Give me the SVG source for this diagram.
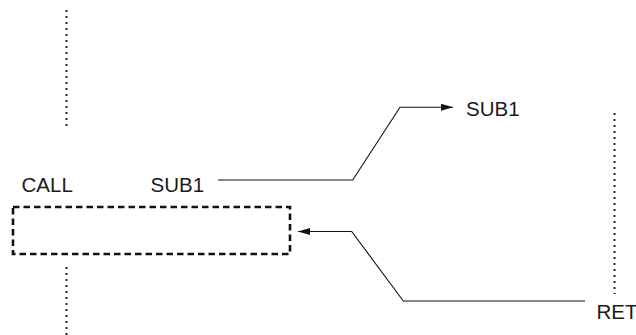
<svg xmlns="http://www.w3.org/2000/svg" width="636" height="335" viewBox="0 0 636 335">
  <style>
    .lbl { font-family: "Liberation Sans", Arial, sans-serif; font-size: 20.5px; fill: #1a1a1a; }
    .dot { stroke: #222; stroke-width: 2; stroke-dasharray: 2 4; fill: none; }
    .wire { stroke: #111; stroke-width: 1.1; fill: none; }
    .box { stroke: #111; stroke-width: 2.6; stroke-dasharray: 6.5 4; fill: none; }
  </style>
  <defs>
    <marker id="arr" markerUnits="userSpaceOnUse" markerWidth="13" markerHeight="8" refX="12" refY="3.5" orient="auto">
      <path d="M0,0 L12,3.5 L0,7 z" fill="#111"/>
    </marker>
  </defs>
  <g id="timeline-left">
    <line class="dot" x1="66.5" y1="10" x2="66.5" y2="126"/>
    <line class="dot" x1="66.5" y1="267" x2="66.5" y2="335"/>
  </g>
  <g id="timeline-right">
    <line class="dot" x1="614.5" y1="113" x2="614.5" y2="294"/>
  </g>
  <g id="call-node">
    <text class="lbl" x="21.5" y="191.7">CALL</text>
    <text class="lbl" x="150.5" y="191.7">SUB1</text>
    <rect class="box" x="13" y="207" width="277" height="47"/>
  </g>
  <g id="sub1-node">
    <text class="lbl" x="466" y="116">SUB1</text>
  </g>
  <g id="ret-node">
    <text class="lbl" x="596.5" y="319">RET</text>
  </g>
  <g id="connectors">
    <path class="wire" d="M218 180 H352.7 L400 107.3 H453" marker-end="url(#arr)"/>
    <path class="wire" d="M585 301 H403.3 L351.7 231.5 H298" marker-end="url(#arr)"/>
  </g>
</svg>
